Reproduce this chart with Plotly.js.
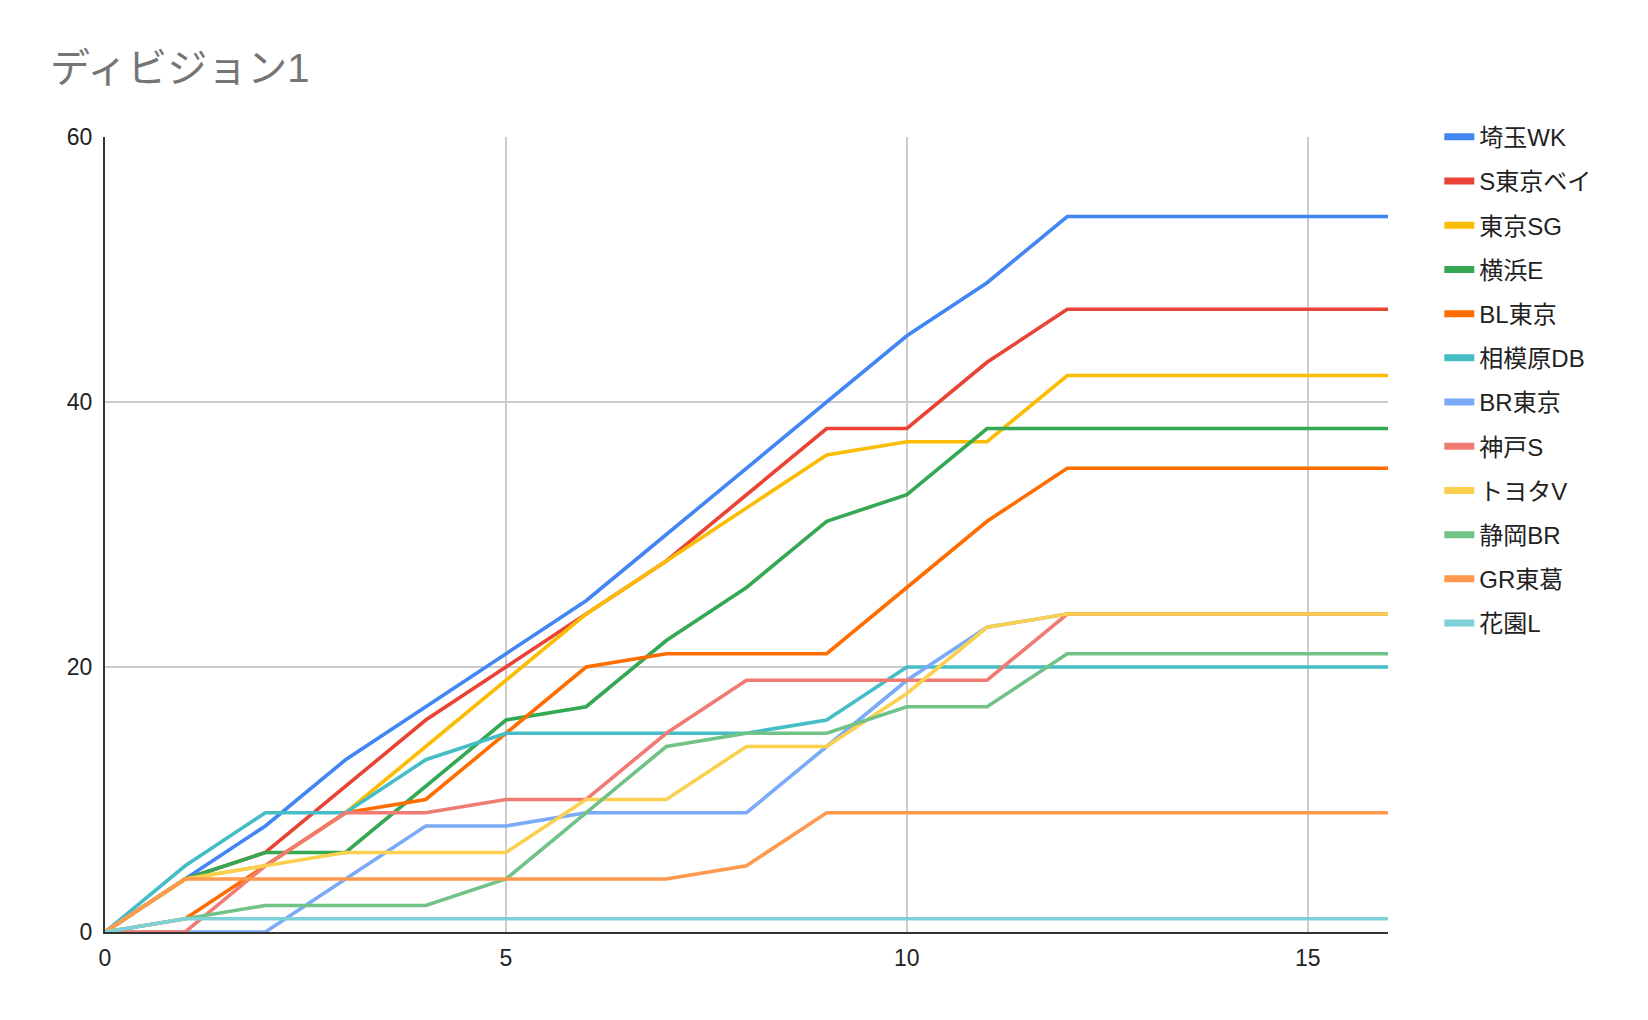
<!DOCTYPE html>
<html>
<head>
<meta charset="utf-8">
<script src="https://cdn.plot.ly/plotly-3.0.1.min.js"></script>
<style>
  html, body { margin: 0; padding: 0; background: #ffffff; }
  #chart { width: 1648px; height: 1020px; }
</style>
</head>
<body>
<div id="chart"></div>
<script>
// ---- data ----
const rounds = [0, 1, 2, 3, 4, 5, 6, 7, 8, 9, 10, 11, 12, 13, 14, 15, 16];
const teams = ["埼玉WK", "S東京ベイ", "東京SG", "横浜E", "BL東京", "相模原DB", "BR東京", "神戸S", "トヨタV", "静岡BR", "GR東葛", "花園L"];
const saitamaWK   = [0, 4, 8, 13, 17, 21, 25, 30, 35, 40, 45, 49, 54, 54, 54, 54, 54];
const sTokyoBay   = [0, 4, 6, 11, 16, 20, 24, 28, 33, 38, 38, 43, 47, 47, 47, 47, 47];
const tokyoSG     = [0, 4, 5, 9, 14, 19, 24, 28, 32, 36, 37, 37, 42, 42, 42, 42, 42];
const yokohamaE   = [0, 4, 6, 6, 11, 16, 17, 22, 26, 31, 33, 38, 38, 38, 38, 38, 38];
const blTokyo     = [0, 1, 5, 9, 10, 15, 20, 21, 21, 21, 26, 31, 35, 35, 35, 35, 35];
const sagamiharaDB= [0, 5, 9, 9, 13, 15, 15, 15, 15, 16, 20, 20, 20, 20, 20, 20, 20];
const brTokyo     = [0, 0, 0, 4, 8, 8, 9, 9, 9, 14, 19, 23, 24, 24, 24, 24, 24];
const kobeS       = [0, 0, 5, 9, 9, 10, 10, 15, 19, 19, 19, 19, 24, 24, 24, 24, 24];
const toyotaV     = [0, 4, 5, 6, 6, 6, 10, 10, 14, 14, 18, 23, 24, 24, 24, 24, 24];
const shizuokaBR  = [0, 1, 2, 2, 2, 4, 9, 14, 15, 15, 17, 17, 21, 21, 21, 21, 21];
const grTokatsu   = [0, 4, 4, 4, 4, 4, 4, 4, 5, 9, 9, 9, 9, 9, 9, 9, 9];
const hanazonoL   = [0, 1, 1, 1, 1, 1, 1, 1, 1, 1, 1, 1, 1, 1, 1, 1, 1];
const xTicks = [0, 5, 10, 15];
const yTicks = [0, 20, 40, 60];

const seriesValues = [saitamaWK, sTokyoBay, tokyoSG, yokohamaE, blTokyo, sagamiharaDB,
                      brTokyo, kobeS, toyotaV, shizuokaBR, grTokatsu, hanazonoL];
const colors = ["#4285F4", "#EA4335", "#FBBC04", "#34A853", "#FF6D01", "#46BDC6",
                "#7BAAF7", "#F07B72", "#FCD04F", "#71C287", "#FF994D", "#7ED1D7"];

const FONT = 'Arial, "Liberation Sans", "Noto Sans CJK JP", sans-serif';

const traces = [];
teams.forEach((name, i) => {
  traces.push({
    type: "scatter", mode: "lines", name: name,
    x: rounds, y: seriesValues[i],
    line: { color: colors[i], width: 3.6 },
    legendgroup: "g" + i, showlegend: false,
    hoverinfo: "x+y+name"
  });
});
// legend entries (thick swatches)
teams.forEach((name, i) => {
  traces.push({
    type: "scatter", mode: "lines", name: name,
    x: [null], y: [null],
    line: { color: colors[i], width: 7 },
    legendgroup: "g" + i, showlegend: true
  });
});

const layout = {
  width: 1648, height: 1020,
  paper_bgcolor: "#ffffff", plot_bgcolor: "#ffffff",
  margin: { l: 105, r: 260, t: 137, b: 88, pad: 0 },
  font: { family: FONT, size: 22, color: "#222222" },
  title: {
    text: "ディビジョン1",
    font: { family: FONT, size: 40, color: "#757575" },
    xref: "container", yref: "container",
    x: 50 / 1648, xanchor: "left",
    y: 1 - 68 / 1020, yanchor: "middle"
  },
  xaxis: {
    range: [0, 16], tickvals: xTicks, ticktext: xTicks.map(String),
    showgrid: true, gridcolor: "#cccccc", gridwidth: 1.5,
    zeroline: false, showline: true, linecolor: "#333333", linewidth: 2,
    ticks: "", ticklabelstandoff: 4,
    tickfont: { family: FONT, size: 23, color: "#222222" },
    fixedrange: true
  },
  yaxis: {
    range: [0, 60], tickvals: yTicks, ticktext: yTicks.map(String),
    showgrid: true, gridcolor: "#cccccc", gridwidth: 1.5,
    zeroline: false, showline: true, linecolor: "#333333", linewidth: 2,
    ticks: "", ticklabelstandoff: 6,
    tickfont: { family: FONT, size: 23, color: "#222222" },
    fixedrange: true
  },
  legend: {
    x: 1.04, xanchor: "left", y: 1.028, yanchor: "top",
    font: { family: FONT, size: 24, color: "#222222" },
    bgcolor: "rgba(0,0,0,0)", borderwidth: 0,
    itemwidth: 30, tracegroupgap: 10,
    traceorder: "grouped",
    maxheight: 900
  },
  showlegend: true
};

Plotly.newPlot("chart", traces, layout, { displayModeBar: false, staticPlot: true });
</script>
</body>
</html>
